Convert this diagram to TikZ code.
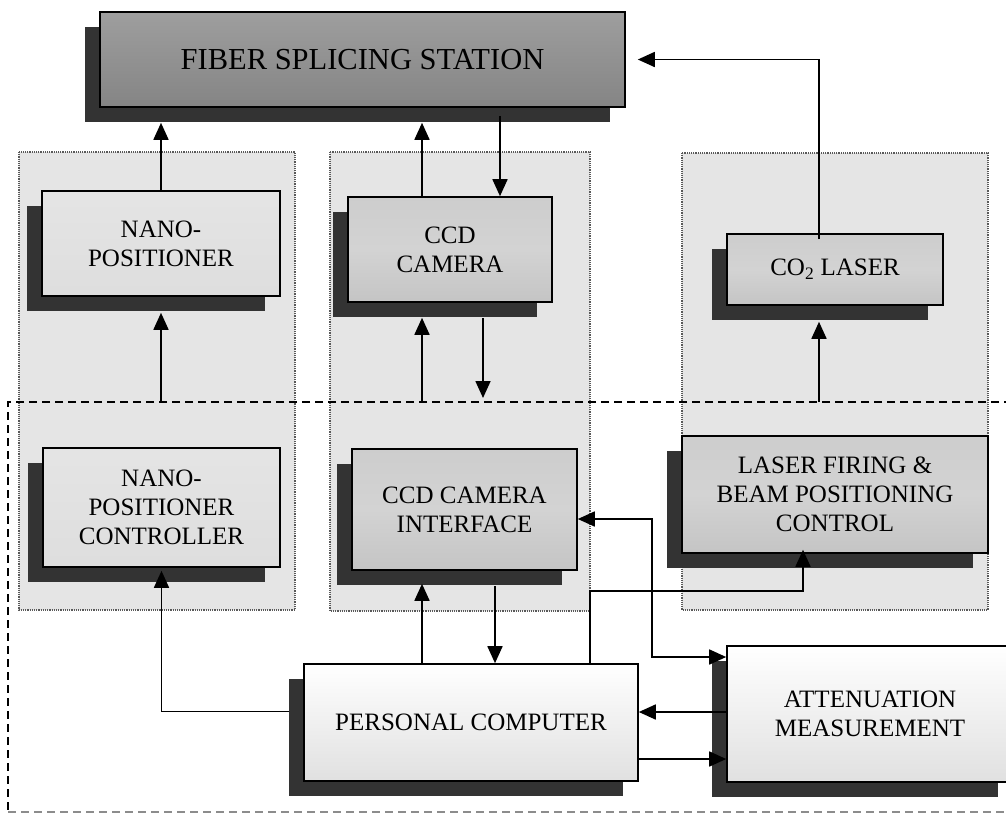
\documentclass[tikz,border=0pt]{standalone}
\usepackage{fontspec}
\setmainfont{Liberation Serif}
\usetikzlibrary{arrows.meta,shadows,calc}
\definecolor{panelc}{gray}{0.9}
\definecolor{shadc}{gray}{0.2}
\definecolor{midc}{gray}{0.77}
\definecolor{lightc}{gray}{0.87}
\begin{document}
\begin{tikzpicture}[x=1pt,y=-1pt,
  blk/.style={draw=black, line width=1.6pt, align=center, inner sep=0pt,
    font=\fontsize{25}{29}\selectfont, text=black,
    general shadow={fill=shadc, shadow xshift=-15pt, shadow yshift=-15pt}},
  midblk/.style={blk, top color=midc!85, bottom color=midc, middle color=midc!75},
  lightblk/.style={blk, top color=lightc!80, bottom color=lightc},
  whiteblk/.style={blk, top color=white, bottom color=black!12},
  panel/.style={fill=panelc, draw=black!65, line width=1.2pt, densely dotted},
  dashline/.style={draw=black, line width=1.4pt, dash pattern=on 8pt off 5pt},
  arr/.style={line width=1.7pt, -{Triangle[width=15pt,length=17pt]}},
  arrtwo/.style={line width=1.7pt, {Triangle[width=15pt,length=17pt]}-{Triangle[width=15pt,length=17pt]}}]
\clip (0,0) rectangle (1006,815);
\fill[white] (0,0) rectangle (1006,815);
% panels
\draw[panel] (19,152) rectangle (295,610);
\draw[panel] (330,152) rectangle (590,611);
\draw[panel] (682,153) rectangle (988,610);
% dashed frame
\draw[dashline] (1012,402) -- (8,402) -- (8,812);
\draw[dashline, draw=black!45] (8,812) -- (1012,812);
\coordinate (dl) at (0,402);
% blocks
\node[blk, minimum width=525pt, minimum height=95pt, shading=axis,
  top color=black!38, middle color=black!16, bottom color=black!48,
  font=\fontsize{30.5}{34}\selectfont] (fss) at (362.5,59.5) {FIBER SPLICING STATION};
\node[lightblk, minimum width=238pt, minimum height=105pt] (np) at (161,243.5) {NANO-\\POSITIONER};
\node[midblk, minimum width=204pt, minimum height=105pt] (ccd) at (450,249.5) {CCD\\CAMERA};
\node[midblk, minimum width=216pt, minimum height=71pt] (co2) at (835,269.5) {CO\textsubscript{2} LASER};
\node[lightblk, minimum width=237pt, minimum height=119pt] (npc) at (161.5,507.5) {NANO-\\POSITIONER\\CONTROLLER};
\node[midblk, minimum width=225pt, minimum height=121pt] (ccdi) at (464.5,509.5) {CCD CAMERA\\INTERFACE};
\node[midblk, minimum width=306pt, minimum height=117pt] (laser) at (835,494.5) {LASER FIRING \&\\BEAM POSITIONING\\CONTROL};
\node[whiteblk, minimum width=334pt, minimum height=117pt] (pc) at (471,722.5) {PERSONAL COMPUTER};
\node[whiteblk, minimum width=286pt, minimum height=136pt] (att) at (870,714) {ATTENUATION\\MEASUREMENT};
% connectors
\draw[arr, shorten >=15pt] (np.north) -- (np.north |- fss.south);
\coordinate (ccdT1) at ([xshift=-28pt]ccd.north);
\draw[arr, shorten >=15pt] (ccdT1) -- (ccdT1 |- fss.south);
\coordinate (ccdT2) at ([xshift=50pt]ccd.north);
\draw[arr, shorten <=8pt] (ccdT2 |- fss.south) -- (ccdT2);
\draw[arr, shorten >=16pt] (np.south |- dl) -- (np.south);
\coordinate (ccdA) at ([xshift=-28pt]ccd.south);
\draw[arr, shorten >=15pt] (ccdA |- dl) -- (ccdA);
\coordinate (ccdB) at ([xshift=33pt]ccd.south);
\draw[arr, shorten <=15pt, shorten >=4pt] (ccdB) -- (ccdB |- dl);
\coordinate (co2T) at ([xshift=-16pt]co2.north);
\draw[arr, shorten <=-6pt, shorten >=12pt] (co2T) |- (fss.east);
\coordinate (co2B) at ([xshift=-16pt]co2.south);
\draw[arr, shorten >=16pt] (co2B |- dl) -- (co2B);
\coordinate (pcW) at ([yshift=11pt]pc.west);
\draw[arr, shorten <=14pt, shorten >=3pt] (pcW) -| (npc.south);
\coordinate (pcA) at ([xshift=-49pt]pc.north);
\draw[arr, shorten >=13pt] (pcA) -- (pcA |- ccdi.south);
\coordinate (pcB) at ([xshift=24pt]pc.north);
\draw[arr, shorten <=15pt] (pcB |- ccdi.south) -- (pcB);
\coordinate (pcC) at ([xshift=119pt]pc.north);
\coordinate (lzB) at ([xshift=-32pt]laser.south);
\draw[arr, shorten >=-4pt] (pcC) -- ++(0,-72) -| (lzB);
\coordinate (ccdiE) at ([yshift=-9.5pt]ccdi.east);
\coordinate (attW1) at ([yshift=57pt]att.west);
\draw[arrtwo] (ccdiE) -- ++(74,0) |- (attW1);
\coordinate (attW2) at ([yshift=2pt]att.west);
\draw[arr] (attW2) -- (attW2 -| pc.east);
\coordinate (pcE) at ([yshift=-36.5pt]pc.east);
\draw[arr] (pcE) -- (pcE -| att.west);
\end{tikzpicture}
\end{document}
